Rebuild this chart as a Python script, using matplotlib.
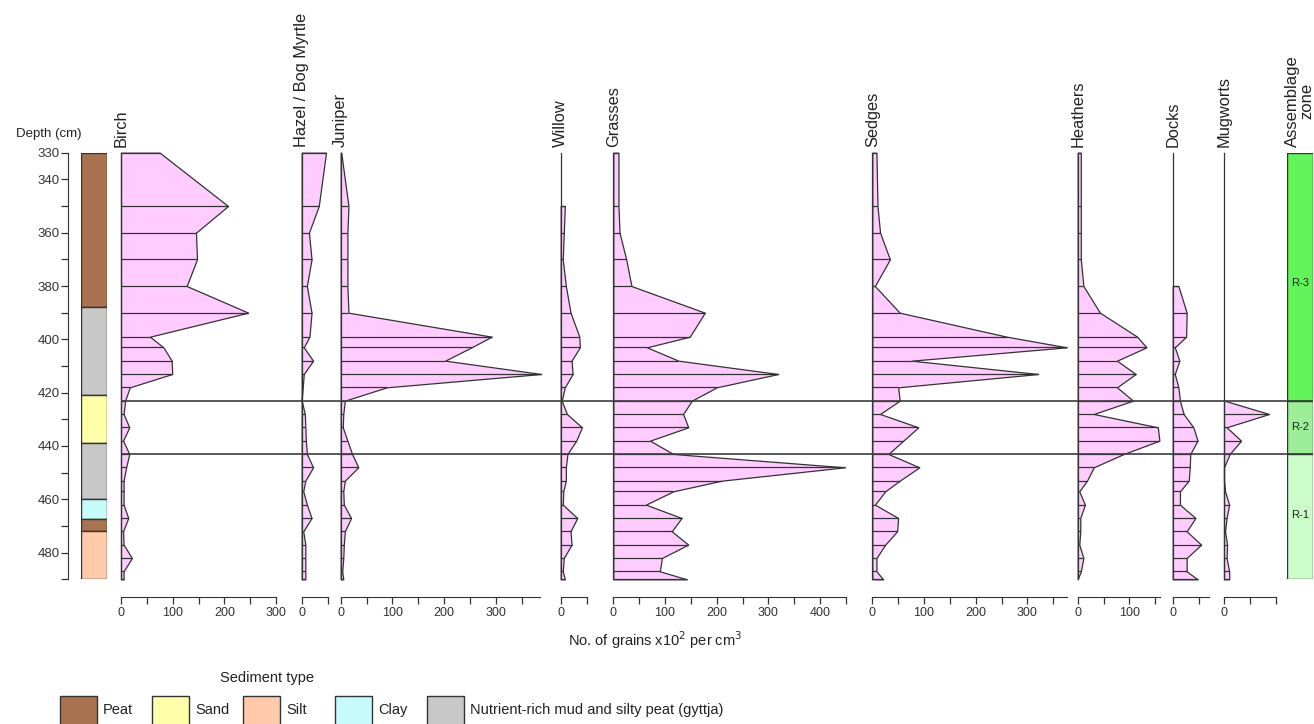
import matplotlib
matplotlib.use('Agg')
import matplotlib.pyplot as plt
from matplotlib.patches import Rectangle

plt.rcParams['font.family'] = ['Liberation Sans', 'DejaVu Sans']
plt.rcParams['text.color'] = '#222222'
plt.rcParams['xtick.color'] = '#333333'
plt.rcParams['ytick.color'] = '#333333'

# sample depths (cm)
depths = [330, 350, 360, 370, 380, 390, 399, 403, 408, 413, 418, 423, 428,
          433, 438, 443, 448, 453, 457, 462, 467, 472, 477, 482, 487, 490]

# pollen counts, grains x10^2 per cm3
birch = [75, 207, 145, 147, 127, 246, 56, 82, 98, 99, 17, 8, 5,
         16, 4, 16, 10, 5, 5, 5, 14, 4, 5, 21, 5, 5]
hazel = [47, 33, 14, 19, 10, 19, 15, 4, 22, 4, 2, 0, 6,
         7, 8, 10, 22, 7, 3, 10, 19, 3, 7, 7, 7, 7]
juniper = [1, 15, 13, 13, 13, 15, 292, 253, 202, 388, 89, 8, 5,
           4, 13, 22, 34, 8, 5, 6, 20, 8, 6, 5, 3, 5]
willow = [0, 8, 6, 4, 10, 19, 36, 37, 21, 23, 8, 2, 12,
          41, 30, 13, 10, 10, 5, 4, 32, 19, 21, 6, 4, 8]
grasses = [10, 10, 12, 25, 35, 177, 148, 65, 126, 319, 200, 152, 135,
           145, 71, 116, 448, 210, 116, 63, 132, 113, 145, 94, 90, 142]
sedges = [8, 10, 15, 34, 5, 53, 260, 376, 76, 321, 50, 53, 15,
          89, 60, 31, 91, 53, 25, 5, 50, 48, 25, 8, 8, 21]
heathers = [6, 6, 6, 6, 11, 43, 115, 133, 76, 112, 76, 107, 31,
            155, 158, 89, 31, 18, 3, 14, 5, 5, 3, 11, 6, 0]
docks = [0, 0, 0, 0, 11, 27, 26, 4, 13, 4, 11, 14, 21,
         40, 48, 34, 33, 31, 14, 14, 44, 27, 55, 27, 27, 48]
mugworts = [0, 0, 0, 0, 0, 0, 0, 0, 0, 0, 0, 1, 87,
            5, 33, 11, 0, 0, 2, 10, 5, 2, 6, 5, 10, 10]

taxa = ['Birch', 'Hazel / Bog Myrtle', 'Juniper', 'Willow', 'Grasses',
        'Sedges', 'Heathers', 'Docks', 'Mugworts']
series = [birch, hazel, juniper, willow, grasses, sedges, heathers, docks, mugworts]
axis_ends = [300, 50, 385, 50, 450, 377, 160, 70, 100]
labelled = [[0, 100, 200, 300], [0], [0, 100, 200, 300], [0], [0, 100, 200, 300, 400],
            [0, 100, 200, 300], [0, 100], [0], [0]]

# sediment log
sed_tops = [330, 388, 421, 439, 460, 467.5, 472]
sed_bottoms = [388, 421, 439, 460, 467.5, 472, 490]
sed_kinds = ['Peat', 'Gyttja', 'Sand', 'Gyttja', 'Clay', 'Peat', 'Silt']

# assemblage zones
zone_names = ['R-3', 'R-2', 'R-1']
zone_tops = [330, 423, 443]
zone_bottoms = [423, 443, 490]
zone_label_depths = [379, 433, 466]

sed_colors = {'Peat': '#a97350', 'Sand': '#ffffaa', 'Silt': '#ffc9aa',
              'Clay': '#c6fbfb', 'Gyttja': '#c8c8c8'}
zone_colors = ['#62f55a', '#9cee98', '#cdfccb']
pink = '#ffccff'
edge = '#333333'

W, H = 1314, 724
ytop, ybot = 152.7, 579.3
PX = 0.517  # pixels per count unit
panel_x0 = [121, 301.7, 340.7, 560.7, 613.3, 872.3, 1077.7, 1172.7, 1224]

fig = plt.figure(figsize=(W / 100, H / 100), dpi=100)


def frame(left, width):
    return [left / W, 1 - ybot / H, width / W, (ybot - ytop) / H]


# sediment column + depth axis
ax = fig.add_axes(frame(81, 26.3))
for t, b, k in zip(sed_tops, sed_bottoms, sed_kinds):
    ax.bar(0.5, b - t, bottom=t, width=1, color=sed_colors[k], edgecolor=edge, lw=1)
ax.set_xlim(0, 1)
ax.set_ylim(490, 330)
for s in ['top', 'right', 'bottom']:
    ax.spines[s].set_visible(False)
ax.spines['left'].set_position(('outward', 9.1))
ax.spines['left'].set_bounds(330, 490)
ax.spines['left'].set_color(edge)
ax.set_xticks([])
yt = list(range(330, 491, 10))
ax.set_yticks(yt)
ax.set_yticklabels([str(v) if v in (330, 340) or (v % 20 == 0 and v < 490) else '' for v in yt])
ax.tick_params(axis='y', length=5, width=0.9, pad=1, labelsize=9.5)
ax.patch.set_visible(False)
fig.text(81 / W, 1 - 134 / H, 'Depth (cm)', ha='right', va='center', fontsize=9.5)

# pollen panels
for name, vals, x0, end, labs in zip(taxa, series, panel_x0, axis_ends, labelled):
    xmax = max(end, max(vals)) + 3
    ax = fig.add_axes(frame(x0, xmax * PX))
    ax.set_xlim(0, xmax)
    ax.set_ylim(490, 330)
    ax.patch.set_visible(False)
    for s in ['top', 'right', 'left']:
        ax.spines[s].set_visible(False)
    ax.spines['bottom'].set_position(('outward', 12.7))
    ax.spines['bottom'].set_bounds(0, end)
    ax.spines['bottom'].set_color(edge)
    ax.set_yticks([])
    ticks = list(range(0, end + 1, 50))
    ax.set_xticks(ticks)
    ax.set_xticklabels([str(t) if t in labs else '' for t in ticks])
    ax.tick_params(axis='x', length=5, width=0.9, pad=2, labelsize=9)
    ax.plot([0, 0], [330, 490], color=edge, lw=0.9, clip_on=False)
    i0 = next(i for i, v in enumerate(vals) if v > 0)
    d = depths[i0:]
    v = vals[i0:]
    ax.fill_betweenx(d, 0, v, facecolor=pink, edgecolor=edge, lw=0.9, clip_on=False)
    ax.hlines(d, 0, v, color=edge, lw=0.9, clip_on=False)
    ax.annotate(name, xy=(0, 330), xytext=(0, 4), textcoords='offset points',
                rotation=90, ha='center', va='bottom', fontsize=11.8,
                annotation_clip=False)

# assemblage zones
ax = fig.add_axes(frame(1287.3, 25.7))
for n, t, b, c, ld in zip(zone_names, zone_tops, zone_bottoms, zone_colors, zone_label_depths):
    ax.bar(0.5, b - t, bottom=t, width=1, color=c, edgecolor=edge, lw=1)
    ax.text(0.5, ld, n, ha='center', va='center', fontsize=8)
ax.set_xlim(0, 1)
ax.set_ylim(490, 330)
ax.axis('off')
ax.annotate('Assemblage\nzone', xy=(0.5, 330), xytext=(0, 4), textcoords='offset points',
            rotation=90, ha='center', va='bottom', multialignment='center',
            fontsize=12, linespacing=0.95, annotation_clip=False)

# zone boundary lines across the diagram
ax = fig.add_axes(frame(121, 1313 - 121))
ax.set_xlim(0, 1)
ax.set_ylim(490, 330)
ax.axis('off')
ax.hlines(zone_tops[1:], 0, 1, color='#3c3c3c', lw=1.2)

fig.text(655 / W, 1 - 640 / H, r'No. of grains x10$^2$ per cm$^3$',
         ha='center', va='center', fontsize=10.5)

# legend
fig.text(267 / W, 1 - 678 / H, 'Sediment type', ha='center', va='center', fontsize=10.5)
leg_names = ['Peat', 'Sand', 'Silt', 'Clay', 'Nutrient-rich mud and silty peat (gyttja)']
leg_kinds = ['Peat', 'Sand', 'Silt', 'Clay', 'Gyttja']
leg_x = [60, 152, 243, 335, 427]
for name, k, x in zip(leg_names, leg_kinds, leg_x):
    fig.add_artist(Rectangle((x / W, 1 - 728 / H), 37 / W, 32 / H,
                             transform=fig.transFigure, facecolor=sed_colors[k],
                             edgecolor=edge, lw=1))
    fig.text((x + 43) / W, 1 - 710 / H, name, ha='left', va='center', fontsize=10.5)

fig.savefig('out.png', dpi=100)
